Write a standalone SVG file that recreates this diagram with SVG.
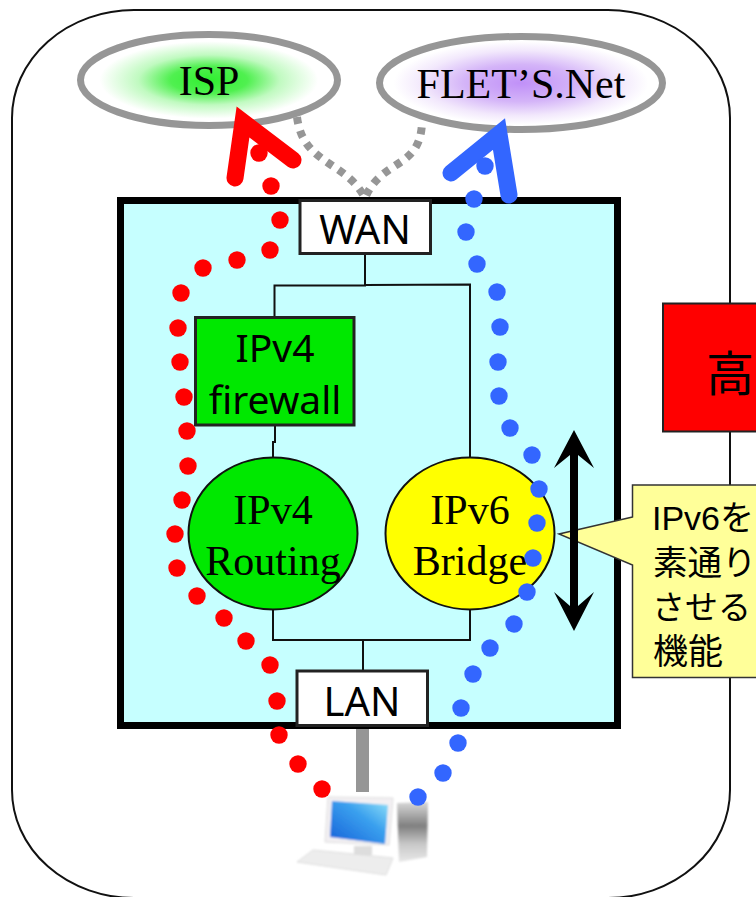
<svg xmlns="http://www.w3.org/2000/svg" width="756" height="897" viewBox="0 0 756 897">
<style>
.ser{font-family:"Liberation Serif","Noto Serif",serif;fill:#000;text-anchor:middle}
.san{font-family:"Noto Sans","Liberation Sans",sans-serif;fill:#000;text-anchor:middle}
.cjk{font-family:"Liberation Sans","Noto Sans CJK JP",sans-serif;fill:#000}
.wire{fill:none;stroke:#111;stroke-width:2}
.cloud{stroke:#969696;stroke-width:7}
.box{stroke:#222;stroke-width:3;fill:#fff}
.red circle{fill:#f00}
.blue circle{fill:#3366ff}
</style>
<defs>
<radialGradient id="gi"><stop offset="0" stop-color="#30f030"/><stop offset=".3" stop-color="#50f050"/><stop offset=".55" stop-color="#c0fac0"/><stop offset=".85" stop-color="#fff"/></radialGradient>
<radialGradient id="gf"><stop offset="0" stop-color="#c090f8"/><stop offset=".4" stop-color="#d4b4f8"/><stop offset=".7" stop-color="#f2e8fc"/><stop offset=".9" stop-color="#fff"/></radialGradient>
<linearGradient id="gs" x1="0" y1="1" x2="1" y2="0"><stop offset="0" stop-color="#1560d8"/><stop offset=".6" stop-color="#3aa0ee"/><stop offset="1" stop-color="#90e0f8"/></linearGradient>
<linearGradient id="gt" x1="0" y1="0" x2="0" y2="1"><stop offset="0" stop-color="#d8d8d8"/><stop offset=".4" stop-color="#808080"/><stop offset=".7" stop-color="#c8c8c8"/><stop offset="1" stop-color="#e8e8e8"/></linearGradient>
<filter id="soft"><feGaussianBlur stdDeviation=".8"/></filter>
</defs>
<path id="frame" d="M134 10H608A122 108 0 0 1 730 118V790A122 108 0 0 1 608 898H134A122 108 0 0 1 12 790V118A122 108 0 0 1 134 10Z" fill="#fff" stroke="#111" stroke-width="2"/>
<g id="high"><rect x="663" y="303.500" width="100" height="128" fill="#f00" stroke="#222" stroke-width="2"/><text class="cjk" x="706" y="391" font-size="48">高</text></g>
<g id="isp"><ellipse class="cloud" cx="209" cy="80" rx="128.500" ry="45.500" fill="url(#gi)"/><text class="ser" x="209" y="95" font-size="42">ISP</text></g>
<g id="flets"><ellipse class="cloud" cx="521" cy="83" rx="141.500" ry="46.500" fill="url(#gf)"/><text class="ser" x="521" y="98" font-size="42">FLET’S.Net</text></g>
<g id="router"><rect x="120.500" y="200.500" width="497" height="525" fill="#c6ffff" stroke="#000" stroke-width="7"/></g>
<g id="connectors">
<path d="M297 117C303 165 345 160 365 198C382 158 420 170 422 123" fill="none" stroke="#969696" stroke-width="8" stroke-dasharray="7 7"/>
<path class="wire" d="M365 254V285.500H274.500V317M365 285L470 284.500V460M275 425V442H273V458M273 610V640H470V610M363 640V671"/>
<path d="M362.500 729V792" stroke="#969696" stroke-width="13" fill="none"/>
<path d="M235 178L243 122L293 160" fill="none" stroke="#f00" stroke-width="17" stroke-linecap="round" stroke-miterlimit="10"/>
<path d="M509 195L499 134L451 173" fill="none" stroke="#3366ff" stroke-width="17" stroke-linecap="round" stroke-miterlimit="10"/>
</g>
<g id="wan"><rect class="box" x="300" y="200.500" width="130.500" height="53"/><text class="san" x="365" y="244" font-size="40">WAN</text></g>
<g id="lan"><rect class="box" x="297" y="671" width="130.500" height="54.500" stroke-width="2"/><text class="san" x="362" y="716" font-size="40">LAN</text></g>
<g id="firewall"><rect x="195.500" y="317.500" width="158.500" height="107.500" fill="#00e800" stroke="#222" stroke-width="3"/><text class="san" x="275" y="362" font-size="39">IPv4</text><text class="san" x="275" y="414" font-size="39">firewall</text></g>
<g id="routing"><ellipse cx="273" cy="533.500" rx="84.500" ry="76" fill="#00e800" stroke="#111" stroke-width="2"/><text class="ser" x="273" y="524" font-size="42">IPv4</text><text class="ser" x="273" y="575" font-size="42">Routing</text></g>
<g id="bridge"><ellipse cx="470" cy="533.500" rx="84.500" ry="76" fill="#ff0" stroke="#111" stroke-width="2"/><text class="ser" x="470" y="524" font-size="42">IPv6</text><text class="ser" x="470" y="575" font-size="42">Bridge</text></g>
<g id="callout"><path d="M632.500 517L559 534L632.500 565V677.500H770V485H632.500Z" fill="#ffff99" stroke="#333" stroke-width="1.500"/>
<text class="cjk" x="652" y="530" font-size="34">IPv6を</text><text class="cjk" x="653" y="575" font-size="34.500">素通り</text><text class="cjk" x="652" y="619" font-size="33">させる</text><text class="cjk" x="653" y="664" font-size="35">機能</text></g>
<g id="updown"><path d="M574 430L594 468L578 455V606L594 592L574 631L554 592L570 606V455L554 468Z" fill="#000"/></g>
<g id="pc" filter="url(#soft)">
<path d="M297 862L313 850L393 858L386 875Z" fill="#ededed" stroke="#ddd"/>
<path d="M354 846H372V855H354Z" fill="#ddd"/>
<path d="M328 797L393 798L389 845L325 842Z" fill="#f3f0f3" stroke="#ddd"/>
<path d="M332 801L388 805L385 844L330 837Z" fill="url(#gs)"/>
<path d="M397 803L428 802L427 857L399 862Z" fill="url(#gt)"/>
</g>
<g id="red-path" class="red"><circle cx="259" cy="153" r="8.700"/><circle cx="271" cy="186" r="8.700"/><circle cx="280" cy="220" r="8.700"/><circle cx="270" cy="250" r="8.700"/><circle cx="237" cy="260" r="8.700"/><circle cx="203" cy="268" r="8.700"/><circle cx="181" cy="293" r="8.700"/><circle cx="178" cy="328" r="8.700"/><circle cx="180" cy="362" r="8.700"/><circle cx="184" cy="397" r="8.700"/><circle cx="187" cy="431" r="8.700"/><circle cx="188" cy="466" r="8.700"/><circle cx="182" cy="500" r="8.700"/><circle cx="175" cy="534" r="8.700"/><circle cx="177" cy="568" r="8.700"/><circle cx="197" cy="596" r="8.700"/><circle cx="224" cy="618" r="8.700"/><circle cx="246" cy="641" r="8.700"/><circle cx="270" cy="665" r="8.700"/><circle cx="277" cy="701" r="8.700"/><circle cx="279" cy="735" r="8.700"/><circle cx="298" cy="764" r="8.700"/><circle cx="322" cy="789" r="8.700"/></g>
<g id="blue-path" class="blue"><circle cx="485" cy="166" r="8.700"/><circle cx="474" cy="199" r="8.700"/><circle cx="466" cy="232" r="8.700"/><circle cx="477" cy="264" r="8.700"/><circle cx="497" cy="292" r="8.700"/><circle cx="500" cy="327" r="8.700"/><circle cx="498" cy="362" r="8.700"/><circle cx="499" cy="396" r="8.700"/><circle cx="510" cy="428" r="8.700"/><circle cx="532" cy="455" r="8.700"/><circle cx="539" cy="489" r="8.700"/><circle cx="537" cy="523" r="8.700"/><circle cx="533" cy="558" r="8.700"/><circle cx="527" cy="592" r="8.700"/><circle cx="514" cy="624" r="8.700"/><circle cx="490" cy="648" r="8.700"/><circle cx="473" cy="674" r="8.700"/><circle cx="461" cy="708" r="8.700"/><circle cx="458" cy="743" r="8.700"/><circle cx="443" cy="773" r="8.700"/><circle cx="418" cy="797" r="8.700"/></g>
</svg>
